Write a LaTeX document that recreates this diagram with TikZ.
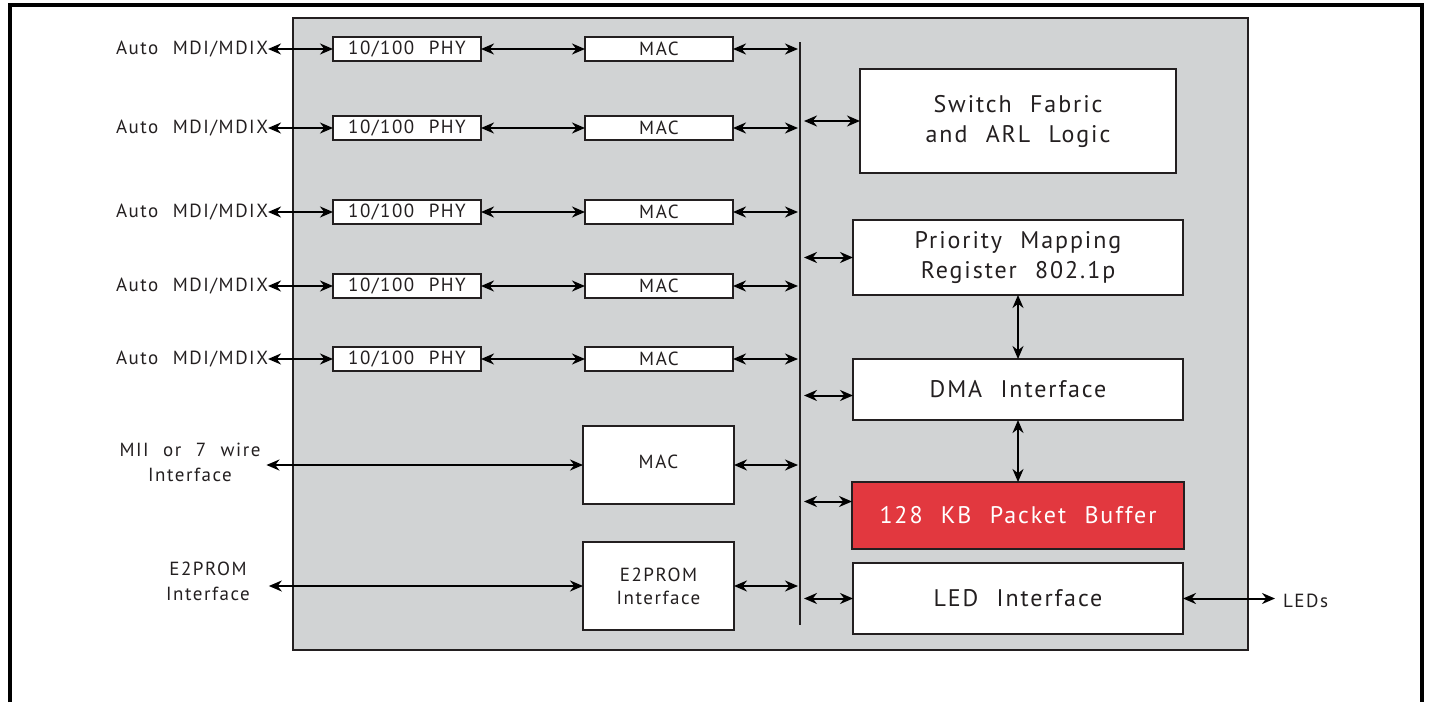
\documentclass[tikz,border=0pt]{standalone}
\usepackage{fontspec}
\setmainfont{PT Sans}[LetterSpace=8,WordSpace=2.2]
\usetikzlibrary{arrows.meta}
\definecolor{chipgray}{HTML}{D1D3D4}
\definecolor{bufred}{HTML}{E2383F}
\definecolor{ink}{HTML}{231F20}

\begin{document}
\begin{tikzpicture}[x=0.5pt, y=-0.5pt]
   \tikzstyle{every node}=[text=ink, inner sep=0pt, outer sep=0pt]
   \tikzstyle{blk}=[draw=ink, line width=1pt, fill=white, font=\fontsize{9.5}{11.5}\selectfont, align=center]
   \tikzstyle{bigblk}=[blk, font=\fontsize{12}{15}\selectfont]
   \tikzstyle{lbl}=[font=\fontsize{9.5}{12.5}\selectfont, align=center]
   \tikzstyle{biarrow}=[{Stealth[length=6.5pt,width=5.5pt]}-{Stealth[length=6.5pt,width=5.5pt]}, line width=1pt, draw=black]

\useasboundingbox (0,0) rectangle (1429,702);
% frame
\draw[line width=1.6pt] (10,702) -- (10,5) -- (1422,5) -- (1422,702);
% chip
\draw[ink, line width=0.8pt, fill=chipgray] (293,18) rectangle (1248,650);
\coordinate (bus) at (800,42);
\draw[ink, line width=1pt] (bus) -- (800,625);

% ports
\node[lbl, anchor=east] (mdi1) at (268,49) {Auto MDI/MDIX};
\node[lbl, anchor=east] (mdi2) at (268,128) {Auto MDI/MDIX};
\node[lbl, anchor=east] (mdi3) at (268,212) {Auto MDI/MDIX};
\node[lbl, anchor=east] (mdi4) at (268,286) {Auto MDI/MDIX};
\node[lbl, anchor=east] (mdi5) at (268,359) {Auto MDI/MDIX};

\node[blk, minimum width=74pt, minimum height=12pt] (phy1) at (407,49) {10/100 PHY};
\node[blk, minimum width=74pt, minimum height=12pt] (phy2) at (407,128) {10/100 PHY};
\node[blk, minimum width=74pt, minimum height=12pt] (phy3) at (407,212) {10/100 PHY};
\node[blk, minimum width=74pt, minimum height=12pt] (phy4) at (407,286) {10/100 PHY};
\node[blk, minimum width=74pt, minimum height=12pt] (phy5) at (407,359) {10/100 PHY};

\node[blk, minimum width=74pt, minimum height=12pt] (mac1) at (659,49) {MAC};
\node[blk, minimum width=74pt, minimum height=12pt] (mac2) at (659,128) {MAC};
\node[blk, minimum width=74pt, minimum height=12pt] (mac3) at (659,212) {MAC};
\node[blk, minimum width=74pt, minimum height=12pt] (mac4) at (659,286) {MAC};
\node[blk, minimum width=74pt, minimum height=12pt] (mac5) at (659,359) {MAC};

\node[lbl] (mii) at (190,462) {MII or 7 wire\\Interface};
\node[blk, minimum width=75.5pt, minimum height=39pt] (mac6) at (658.5,465) {\raisebox{3.5pt}{MAC}};
\node[lbl] (eeprom) at (208,581) {E2PROM\\Interface};
\node[blk, minimum width=75.5pt, minimum height=44pt] (e2p) at (658.5,586) {E2PROM\\Interface};

% right side
\node[bigblk, minimum width=158pt, minimum height=52pt] (fabric) at (1018,121) {Switch Fabric\\and ARL Logic};
\node[bigblk, minimum width=165pt, minimum height=37.5pt] (prio) at (1018,257.5) {Priority Mapping\\Register 802.1p};
\node[bigblk, minimum width=165pt, minimum height=30.5pt] (dma) at (1018,389.5) {DMA Interface};
\node[bigblk, fill=bufred, text=white, minimum width=166pt, minimum height=33.5pt] (buf) at (1018,515.5) {128 KB Packet Buffer};
\node[bigblk, minimum width=165pt, minimum height=35.5pt] (led) at (1018,598.5) {LED Interface};
\node[lbl, anchor=west] (leds) at (1283,601) {LEDs};

% connectors
\draw[biarrow] (mdi1.east) -- (phy1.west);
\draw[biarrow] (mdi2.east) -- (phy2.west);
\draw[biarrow] (mdi3.east) -- (phy3.west);
\draw[biarrow] (mdi4.east) -- (phy4.west);
\draw[biarrow] (mdi5.east) -- (phy5.west);
\draw[biarrow] (phy1.east) -- (mac1.west);
\draw[biarrow] (phy2.east) -- (mac2.west);
\draw[biarrow] (phy3.east) -- (mac3.west);
\draw[biarrow] (phy4.east) -- (mac4.west);
\draw[biarrow] (phy5.east) -- (mac5.west);
\draw[biarrow, shorten >=1pt] (mac1.east) -- (mac1.east -| bus);
\draw[biarrow, shorten >=1pt] (mac2.east) -- (mac2.east -| bus);
\draw[biarrow, shorten >=1pt] (mac3.east) -- (mac3.east -| bus);
\draw[biarrow, shorten >=1pt] (mac4.east) -- (mac4.east -| bus);
\draw[biarrow, shorten >=1pt] (mac5.east) -- (mac5.east -| bus);
\draw[biarrow] ([xshift=3pt]mii.east |- mac6.west) -- (mac6.west);
\draw[biarrow, shorten >=1pt] (mac6.east) -- (mac6.east -| bus);
\draw[biarrow] ([xshift=9.5pt]eeprom.east |- e2p.west) -- (e2p.west);
\draw[biarrow, shorten >=1pt] (e2p.east) -- (e2p.east -| bus);
\draw[biarrow, shorten <=2pt] (fabric.west -| bus) -- (fabric.west);
\draw[biarrow, shorten <=2pt] (prio.west -| bus) -- (prio.west);
\draw[biarrow, shorten <=2pt] ([yshift=-3pt]dma.west -| bus) -- ([yshift=-3pt]dma.west);
\draw[biarrow, shorten <=2pt] ([yshift=7pt]buf.west -| bus) -- ([yshift=7pt]buf.west);
\draw[biarrow, shorten <=2pt] (led.west -| bus) -- (led.west);
\draw[biarrow] (prio.south) -- (dma.north);
\draw[biarrow] (dma.south) -- (buf.north);
\draw[biarrow, shorten >=4pt] (led.east) -- (led.east -| leds.west);

\end{tikzpicture}
\end{document}
